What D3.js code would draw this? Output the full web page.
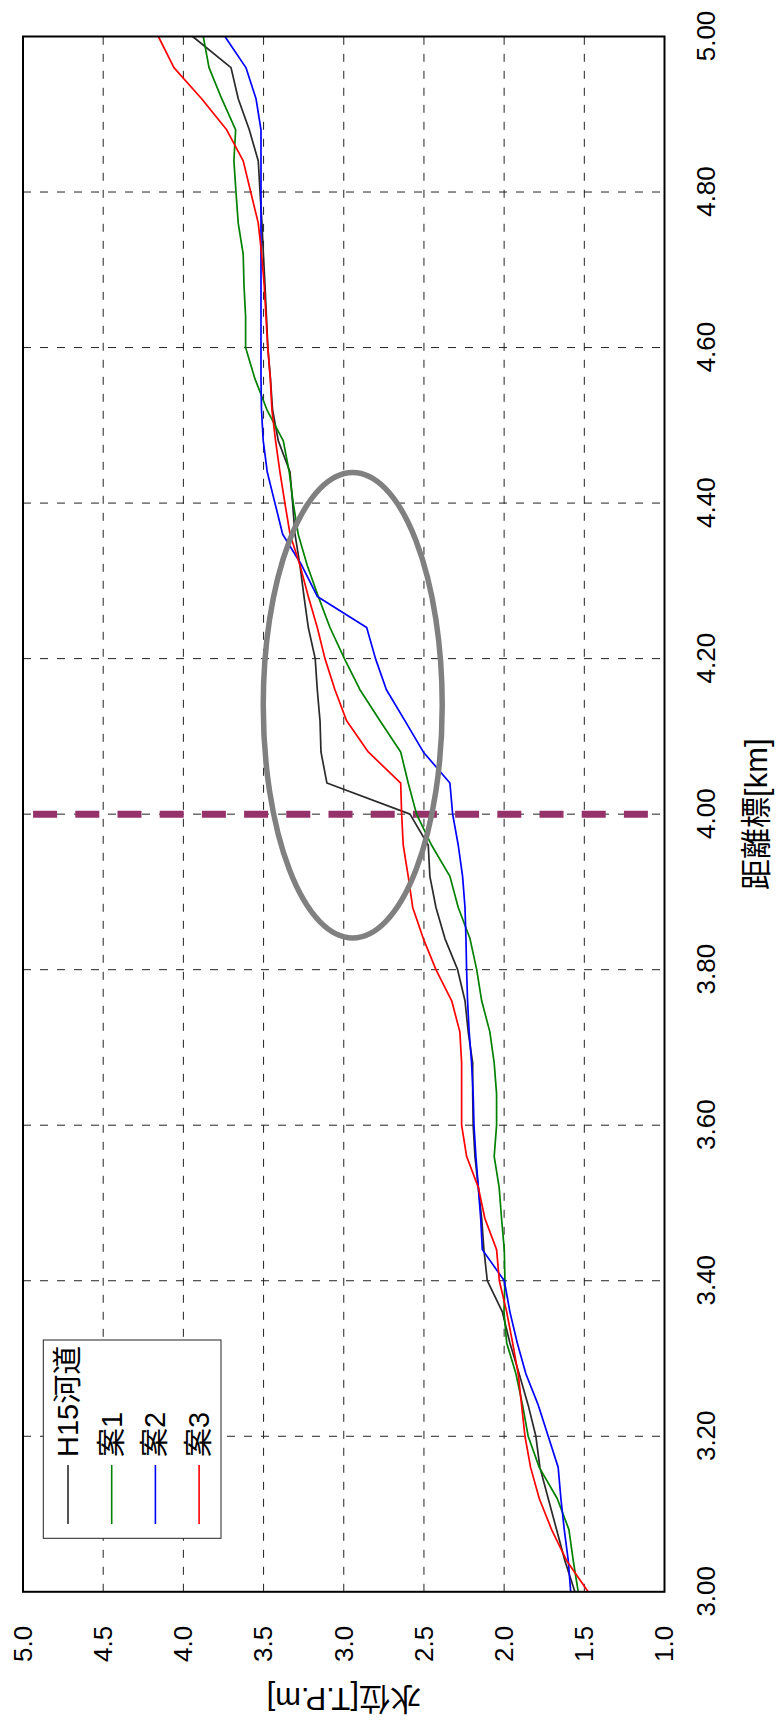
<!DOCTYPE html>
<html>
<head>
<meta charset="utf-8">
<script src="https://cdn.jsdelivr.net/npm/d3@7"></script>
<style>
  html, body { margin: 0; padding: 0; background: #ffffff; }
  svg { display: block; }
  text { font-family: "Liberation Sans", Arial, "Noto Sans CJK JP", sans-serif; fill: #000; }
</style>
</head>
<body>
<div id="chart"></div>
<script>
// 距離標 [km] — sampling stations along the river
const distances = [
  3.00, 3.04, 3.08, 3.12, 3.16, 3.20, 3.24, 3.28, 3.32, 3.36,
  3.40, 3.44, 3.48, 3.52, 3.56, 3.60, 3.64, 3.68, 3.72, 3.76,
  3.80, 3.84, 3.88, 3.92, 3.96, 4.00, 4.04, 4.08, 4.12, 4.16,
  4.20, 4.24, 4.28, 4.32, 4.36, 4.40, 4.44, 4.48, 4.52, 4.56,
  4.60, 4.64, 4.68, 4.72, 4.76, 4.80, 4.84, 4.88, 4.92, 4.96, 5.00
];

// 水位 [T.P.m] for each case
const levelH15 = [
  1.559, 1.621, 1.673, 1.725, 1.777, 1.802, 1.850, 1.906, 1.964, 2.011,
  2.105, 2.126, 2.140, 2.161, 2.182, 2.193, 2.196, 2.196, 2.224, 2.244,
  2.290, 2.369, 2.425, 2.463, 2.473, 2.587, 3.105, 3.142, 3.148, 3.165,
  3.178, 3.221, 3.248, 3.273, 3.304, 3.319, 3.335, 3.408, 3.444, 3.457,
  3.473, 3.482, 3.491, 3.501, 3.510, 3.522, 3.533, 3.589, 3.658, 3.703, 3.942
];
const levelCase1 = [
  1.538, 1.569, 1.596, 1.669, 1.781, 1.850, 1.885, 1.926, 1.984, 2.001,
  1.995, 1.999, 2.016, 2.031, 2.062, 2.047, 2.047, 2.062, 2.089, 2.140,
  2.171, 2.213, 2.286, 2.338, 2.452, 2.546, 2.598, 2.645, 2.774, 2.899,
  2.996, 3.086, 3.159, 3.228, 3.284, 3.315, 3.340, 3.377, 3.479, 3.554,
  3.612, 3.612, 3.622, 3.627, 3.658, 3.672, 3.685, 3.674, 3.761, 3.840, 3.876
];
const levelCase2 = [
  1.585, 1.600, 1.625, 1.646, 1.663, 1.725, 1.787, 1.864, 1.918, 1.964,
  1.999, 2.136, 2.146, 2.161, 2.176, 2.188, 2.193, 2.203, 2.218, 2.228,
  2.234, 2.238, 2.244, 2.259, 2.286, 2.321, 2.338, 2.504, 2.618, 2.734,
  2.802, 2.857, 3.165, 3.262, 3.381, 3.429, 3.477, 3.502, 3.513, 3.516,
  3.516, 3.516, 3.516, 3.516, 3.516, 3.516, 3.516, 3.516, 3.547, 3.610, 3.741
];
const levelCase3 = [
  1.476, 1.610, 1.704, 1.781, 1.835, 1.870, 1.891, 1.912, 1.947, 1.984,
  2.030, 2.047, 2.120, 2.161, 2.234, 2.265, 2.265, 2.265, 2.276, 2.327,
  2.425, 2.504, 2.570, 2.598, 2.629, 2.639, 2.645, 2.847, 2.982, 3.055,
  3.117, 3.165, 3.221, 3.273, 3.335, 3.367, 3.398, 3.425, 3.448, 3.458,
  3.474, 3.485, 3.496, 3.512, 3.533, 3.580, 3.627, 3.730, 3.886, 4.059, 4.156
];

const seriesNames  = ["H15河道", "案1", "案2", "案3"];
const seriesColors = ["#2a2a2a", "#008000", "#0000ff", "#ff0000"];
const seriesValues = [levelH15, levelCase1, levelCase2, levelCase3];

const distTicks  = [3.0, 3.2, 3.4, 3.6, 3.8, 4.0, 4.2, 4.4, 4.6, 4.8, 5.0];
const levelTicks = [1.0, 1.5, 2.0, 2.5, 3.0, 3.5, 4.0, 4.5, 5.0];

const markerDistance = 4.00;             // highlighted cross-section
const focusCenter = [4.14, 2.944];       // [km, T.P.m]
const focusHalfSize = [0.2993, 0.558];   // [km, m]

// Page is portrait; the chart is laid out landscape and turned a quarter turn.
const PAGE_W = 778, PAGE_H = 1727;
const plot = { left: 135.2, right: 1690.5, top: 23, bottom: 664.5 };

const svg = d3.select("#chart").append("svg")
  .attr("width", PAGE_W).attr("height", PAGE_H);

const g = svg.append("g")
  .attr("transform", `translate(0,${PAGE_H}) rotate(-90)`);

const x = d3.scaleLinear().domain([3, 5]).range([plot.left, plot.right]);
const y = d3.scaleLinear().domain([1, 5]).range([plot.bottom, plot.top]);

// grid
const grid = g.append("g").attr("stroke", "#222").attr("stroke-width", 1)
  .attr("stroke-dasharray", "8,9").attr("fill", "none");
grid.selectAll("line.gx").data(distTicks.slice(1, -1)).join("line")
  .attr("class", "gx")
  .attr("x1", d => x(d)).attr("x2", d => x(d))
  .attr("y1", y(5)).attr("y2", y(1));
grid.selectAll("line.gy").data(levelTicks.slice(1, -1)).join("line")
  .attr("class", "gy")
  .attr("x1", x(3)).attr("x2", x(5))
  .attr("y1", d => y(d)).attr("y2", d => y(d));

// highlighted station
g.append("line")
  .attr("x1", x(markerDistance)).attr("x2", x(markerDistance))
  .attr("y1", y(5)).attr("y2", y(1))
  .attr("stroke", "#96326a").attr("stroke-width", 7)
  .attr("stroke-dasharray", "24,18.2").attr("stroke-dashoffset", 32.1);

// water level profiles
const line = d3.line().x((d, i) => x(distances[i])).y(d => y(d));
g.append("g").selectAll("path").data(seriesValues).join("path")
  .attr("d", d => line(d))
  .attr("fill", "none")
  .attr("stroke", (d, i) => seriesColors[i])
  .attr("stroke-width", 1.7)
  .attr("stroke-linejoin", "round");

// focus ellipse
g.append("ellipse")
  .attr("cx", x(focusCenter[0])).attr("cy", y(focusCenter[1]))
  .attr("rx", x(focusCenter[0] + focusHalfSize[0]) - x(focusCenter[0]))
  .attr("ry", y(focusCenter[1]) - y(focusCenter[1] + focusHalfSize[1]))
  .attr("fill", "none").attr("stroke", "#808080").attr("stroke-width", 5.5);

// frame
g.append("rect")
  .attr("x", plot.left).attr("y", plot.top)
  .attr("width", plot.right - plot.left).attr("height", plot.bottom - plot.top)
  .attr("fill", "none").attr("stroke", "#000").attr("stroke-width", 2);

// axes
const xAxis = g.append("g").attr("transform", `translate(0,${plot.bottom})`)
  .call(d3.axisBottom(x).tickValues(distTicks).tickFormat(d3.format(".2f"))
    .tickSize(0).tickPadding(32));
const yAxis = g.append("g").attr("transform", `translate(${plot.left},0)`)
  .call(d3.axisLeft(y).tickValues(levelTicks).tickFormat(d3.format(".1f"))
    .tickSize(0).tickPadding(34));
[xAxis, yAxis].forEach(a => {
  a.select(".domain").remove();
  a.selectAll("text").attr("font-size", 26)
    .attr("font-family", "'Liberation Sans', Arial, sans-serif").attr("fill", "#000");
});

// axis titles
g.append("text")
  .attr("x", (plot.left + plot.right) / 2).attr("y", 756.5)
  .attr("text-anchor", "middle").attr("dominant-baseline", "central")
  .attr("font-size", 31).text("距離標[km]");
g.append("text")
  .attr("transform", `translate(28.5,${(plot.top + plot.bottom) / 2}) rotate(-90)`)
  .attr("text-anchor", "middle").attr("dominant-baseline", "central")
  .attr("font-size", 31).text("水位[T.P.m]");

// legend
const legend = g.append("g");
legend.append("rect")
  .attr("x", 188.7).attr("y", 43.3).attr("width", 198.3).attr("height", 177.7)
  .attr("fill", "#fff").attr("stroke", "#222").attr("stroke-width", 1);
const items = legend.selectAll("g.item").data(seriesNames).join("g")
  .attr("class", "item")
  .attr("transform", (d, i) => `translate(0,${68 + i * 43.7})`);
items.append("line")
  .attr("x1", 203).attr("x2", 262).attr("y1", 0).attr("y2", 0)
  .attr("stroke", (d, i) => seriesColors[i]).attr("stroke-width", 1.6);
items.append("text")
  .attr("x", 270).attr("y", 0).attr("dominant-baseline", "central")
  .attr("font-size", 29).text(d => d);
</script>
</body>
</html>
